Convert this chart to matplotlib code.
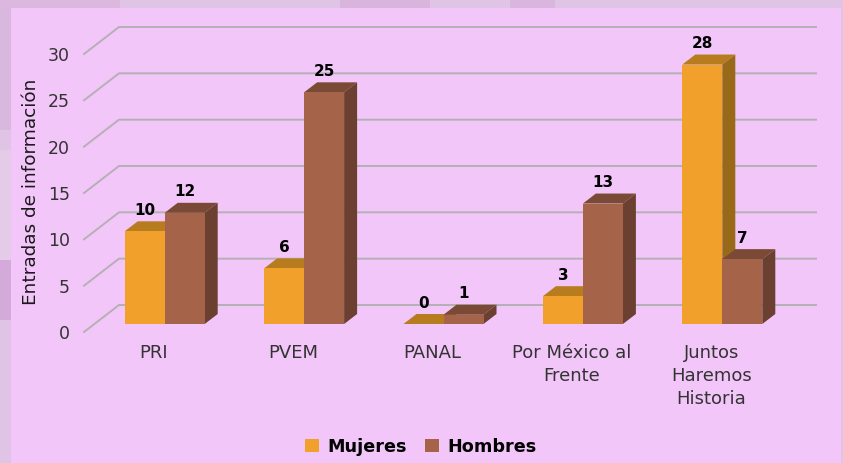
import numpy as np
import matplotlib.pyplot as plt
from matplotlib.patches import Rectangle, Polygon

# Data
partidos = ['PRI', 'PVEM', 'PANAL', 'Por México al\nFrente', 'Juntos\nHaremos\nHistoria']
mujeres = [10, 6, 0, 3, 28]
hombres = [12, 25, 1, 13, 7]
yticks = [0, 5, 10, 15, 20, 25, 30]

W, H = 843, 463
plt.rcParams['font.family'] = 'DejaVu Sans'
fig = plt.figure(figsize=(W/100, H/100), dpi=100, facecolor='#dfc4e6')

def fig_rect(x0, y0, x1, y1, color):
    # pixel box, y from the top of the picture
    fig.patches.append(Rectangle((x0/W, 1-y1/H), (x1-x0)/W, (y1-y0)/H, transform=fig.transFigure,
                                 color=color, lw=0))

# texture of the slide behind the panel, very rough
fig_rect(0, 0, 11, 130, '#d9b8e0')
fig_rect(0, 150, 11, 260, '#e4cce8')
fig_rect(0, 260, 11, 320, '#d4aadb')
fig_rect(0, 0, 120, 8, '#dcb8de')
fig_rect(340, 0, 430, 8, '#d9b4dc')
fig_rect(510, 0, 555, 8, '#dab6de')
fig_rect(11, 8, 841, H, '#f3c6f9')

# front plane of the fake 3d box
L, R, B, T = 84, 781, 332, 54
ax = fig.add_axes([L/W, 1-B/H, (R-L)/W, (B-T)/H])
ax.set_zorder(2)
ax.set_facecolor('none')
ax.set_xlim(-0.5, 4.5)
ax.set_ylim(0, 30)
for spine in ax.spines.values():
    spine.set_visible(False)

# pixel to data units
px = 5/(R-L)
py = 30/(B-T)

# gridlines run along the floor side then across the back wall
for v in yticks:
    ax.plot([-0.5, -0.5+35*px, 4.5+35*px], [v, v+27*py, v+27*py], color='#b4b0b4', lw=1.4,
            clip_on=False, zorder=1, solid_joinstyle='miter')

def bar3d(x0, v, face, top, side):
    w = 40*px
    x0 = x0 + 11*px
    b = 8*py
    dx, dy = 13*px, 10*py
    ax.add_patch(Polygon([(x0, b+v), (x0+dx, b+v+dy), (x0+w+dx, b+v+dy), (x0+w, b+v)],
                         fc=top, ec='none', clip_on=False, zorder=3))
    ax.add_patch(Polygon([(x0+w, b), (x0+w+dx, b+dy), (x0+w+dx, b+v+dy), (x0+w, b+v)],
                         fc=side, ec='none', clip_on=False, zorder=3))
    ax.add_patch(Rectangle((x0, b), w, v, fc=face, ec='none', clip_on=False, zorder=4))
    ax.text(x0+w/2, b+v+21*py, str(v), ha='center', va='center', fontsize=11,
            fontweight='bold', color='black', zorder=5)

w = 40*px
for i in range(len(partidos)):
    bar3d(i-w, mujeres[i], '#f2a02c', '#b67c1e', '#99691a')
for i in range(len(partidos)):
    bar3d(i, hombres[i], '#a5634a', '#7a4a36', '#6b4030')

ax.set_xticks(range(len(partidos)), labels=partidos, fontsize=13, color='#333333', linespacing=1.33)
ax.set_yticks(yticks, labels=[str(v) for v in yticks], fontsize=12.5, color='#333333')
ax.tick_params(axis='x', length=0, pad=9)
ax.tick_params(axis='y', length=0, pad=10)

fig.text(31/W, 1-192/H, 'Entradas de información', rotation=90, ha='center', va='center',
         fontsize=13.3, color='#1a1a1a', zorder=3)

# legend
h1 = Rectangle((0, 0), 1, 1, fc='#f2a02c')
h2 = Rectangle((0, 0), 1, 1, fc='#a5634a')
fig.legend([h1, h2], ['Mujeres', 'Hombres'], ncol=2, loc='center', bbox_to_anchor=(421/W, 1-447/H),
           frameon=False, handlelength=0.75, handleheight=0.75, handletextpad=0.5, columnspacing=1.05,
           prop={'size': 12.7, 'weight': 'bold'})

fig.savefig('out.png', dpi=100, facecolor=fig.get_facecolor())
